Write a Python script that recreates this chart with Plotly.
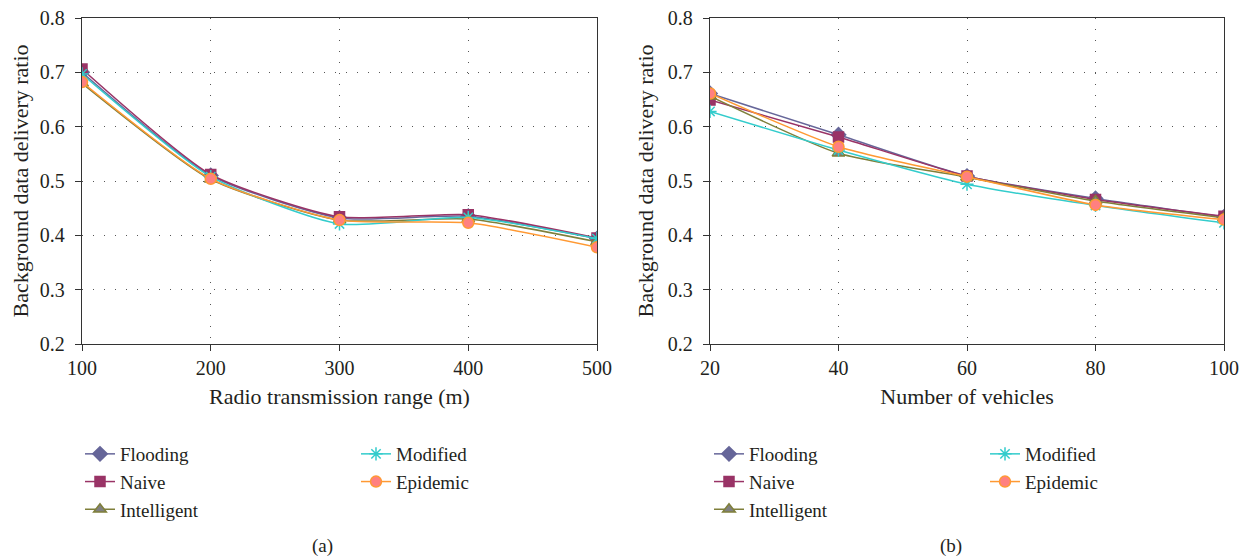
import plotly.graph_objects as go

# ---------------- data ----------------
series = ["Flooding", "Naive", "Intelligent", "Modified", "Epidemic"]

range_m = [100, 200, 300, 400, 500]
a_flooding = [0.700, 0.510, 0.432, 0.435, 0.394]
a_naive = [0.706, 0.512, 0.434, 0.438, 0.395]
a_intelligent = [0.680, 0.503, 0.428, 0.430, 0.388]
a_modified = [0.697, 0.508, 0.421, 0.433, 0.394]
a_epidemic = [0.682, 0.504, 0.428, 0.423, 0.378]

vehicles = [20, 40, 60, 80, 100]
b_flooding = [0.661, 0.585, 0.509, 0.468, 0.434]
b_naive = [0.649, 0.581, 0.509, 0.466, 0.435]
b_intelligent = [0.656, 0.551, 0.507, 0.463, 0.432]
b_modified = [0.628, 0.557, 0.494, 0.455, 0.423]
b_epidemic = [0.661, 0.563, 0.508, 0.456, 0.429]

y_ticks = [0.2, 0.3, 0.4, 0.5, 0.6, 0.7, 0.8]

# ---------------- styles ----------------
line_colors = {"Flooding": "#666699", "Naive": "#993366", "Intelligent": "#7f7f3a",
               "Modified": "#33cccc", "Epidemic": "#ff9933"}
marker_fill = {"Flooding": "#666699", "Naive": "#993366", "Intelligent": "#808080",
               "Modified": "#33cccc", "Epidemic": "#ff8080"}
marker_symbol = {"Flooding": "diamond", "Naive": "square", "Intelligent": "triangle-up",
                 "Modified": "asterisk-open", "Epidemic": "circle"}
marker_size = {"Flooding": 11, "Naive": 10, "Intelligent": 11, "Modified": 11, "Epidemic": 11}

FONT = "'Liberation Serif', 'Times New Roman', serif"
TXT = "#231f20"
FS = 20

# page has an 8px body margin, so the figure is 8px smaller and all
# positions are given in screen pixels minus that offset
OFF = 8
W, H = 1248 - OFF, 559 - OFF


def fx(px):
    return (px - OFF) / W


def fy(py):
    return 1 - (py - OFF) / H


fig = go.Figure()

panels = [
    ("x", "y", range_m, [a_flooding, a_naive, a_intelligent, a_modified, a_epidemic], ("legend", "legend2")),
    ("x2", "y2", vehicles, [b_flooding, b_naive, b_intelligent, b_modified, b_epidemic], ("legend3", "legend4")),
]

for xa, ya, xs, ys_list, legs in panels:
    for i, (name, ys) in enumerate(zip(series, ys_list)):
        fig.add_trace(go.Scatter(
            x=xs, y=ys, name=name, xaxis=xa, yaxis=ya,
            mode="lines+markers",
            line=dict(color=line_colors[name], width=1.5, shape="spline", smoothing=0.6),
            marker=dict(symbol=marker_symbol[name], size=marker_size[name],
                        color=marker_fill[name],
                        line=dict(color=line_colors[name], width=1.5)),
            legend=legs[0] if i < 3 else legs[1],
        ))

grid_dash = "1px,10px"
axis_common = dict(showline=True, linecolor="#333333", linewidth=1.3, mirror=True,
                   ticks="outside", ticklen=6, tickcolor="#333333", tickwidth=1.3,
                   showgrid=True, gridcolor="#555555", griddash=grid_dash, gridwidth=1.3,
                   zeroline=False, automargin=False, ticklabeloverflow="allow",
                   tickfont=dict(family=FONT, size=FS, color=TXT),
                   title_font=dict(family=FONT, size=22, color=TXT))
common_x = dict(axis_common, ticklabelstandoff=0)
common_y = dict(axis_common, range=[0.2, 0.8], tickvals=y_ticks, tickformat=".1f",
                ticklabelstandoff=6)

ydom = [fy(344), fy(18)]
fig.update_layout(
    width=W, height=H,
    margin=dict(l=0, r=0, t=0, b=0, autoexpand=False),
    paper_bgcolor="white", plot_bgcolor="white",
    font=dict(family=FONT, size=FS, color=TXT),
    xaxis=dict(common_x, domain=[fx(82), fx(597)], range=[100, 500], tickvals=range_m,
               anchor="y", title=dict(text="Radio transmission range (m)", standoff=10)),
    yaxis=dict(common_y, domain=ydom, anchor="x",
               title=dict(text="Background data delivery ratio", standoff=8)),
    xaxis2=dict(common_x, domain=[fx(710), fx(1224)], range=[20, 100], tickvals=vehicles,
                anchor="y2", title=dict(text="Number of vehicles", standoff=10)),
    yaxis2=dict(common_y, domain=ydom, anchor="x2",
                title=dict(text="Background data delivery ratio", standoff=8)),
    showlegend=True,
)

leg_common = dict(bgcolor="rgba(0,0,0,0)", font=dict(family=FONT, size=19, color=TXT),
                  orientation="v", xanchor="left", yanchor="top", tracegroupgap=0,
                  itemwidth=30)
fig.update_layout(
    legend=dict(leg_common, x=fx(80), y=fy(435)),
    legend2=dict(leg_common, x=fx(356), y=fy(435)),
    legend3=dict(leg_common, x=fx(709), y=fy(435)),
    legend4=dict(leg_common, x=fx(985), y=fy(435)),
)

for label, cx in (("(a)", 322), ("(b)", 951)):
    fig.add_annotation(text=label, xref="paper", yref="paper", x=fx(cx), y=fy(546),
                       showarrow=False, font=dict(family=FONT, size=19, color=TXT),
                       xanchor="center", yanchor="middle")

fig.write_html("out.html")
